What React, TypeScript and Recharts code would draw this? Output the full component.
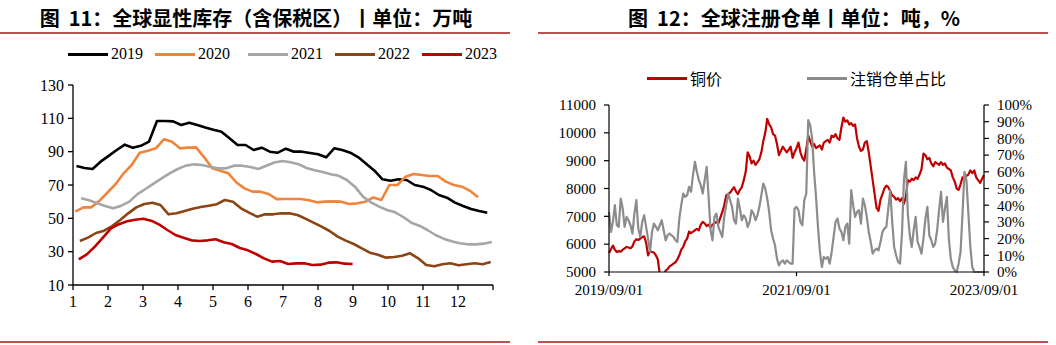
import React from 'react';
import { LineChart, Line, XAxis, YAxis } from 'recharts';

// ---------- Left chart: 全球显性库存（含保税区）, 万吨, weekly (Friday) data ----------
const monthTicks = [1, 2, 3, 4, 5, 6, 7, 8, 9, 10, 11, 12, 13];
const invTicks = [10, 30, 50, 70, 90, 110, 130];

const inv2019 = [81.4, 80.2, 79.6, 84, 87.5, 91, 94.2, 92.4, 93.5, 96, 108.4, 108.4, 108.2, 106, 107.4, 106, 104.5, 103.2, 102, 98, 94, 94, 91, 92.4, 90, 89.4, 91.8, 90, 90, 89.2, 88.4, 86.6, 92, 91, 89.4, 86.6, 82.6, 78.6, 73.4, 72.6, 73.4, 73, 70, 69, 67, 64, 62.4, 59.4, 57.4, 55.6, 54.4, 53.4];
const inv2020 = [54, 56.6, 56.6, 60.5, 65.5, 70.5, 77, 82, 89.4, 90.6, 92, 97.4, 96, 92, 92.4, 92.6, 86.6, 80, 78.6, 77, 71.5, 68, 66, 66, 64.6, 61.5, 61.6, 61.6, 61.6, 60.8, 59.6, 60, 60.2, 60, 58.6, 59, 60, 62.5, 61, 70, 70, 75, 76.6, 76, 75.4, 75.4, 72, 70, 69, 66.5, 62.6];
const inv2021 = [62, 60.8, 59, 57.4, 56, 57.6, 60, 64.5, 67.6, 70.8, 74, 77, 79.6, 81.6, 82.4, 82, 81, 80, 80, 81.6, 81.6, 80.8, 79.6, 81.5, 83.5, 84.4, 83.6, 82.5, 80.2, 78.8, 77.8, 76.4, 75.5, 73, 69, 63, 59.6, 57, 55, 53.6, 50.8, 47.4, 45.6, 43, 40, 37.8, 36.2, 35, 34.4, 34.4, 34.8, 35.8];
const inv2022 = [36.4, 38.4, 41.2, 42.6, 45.4, 49, 53, 56.6, 58.6, 59.4, 58, 52.4, 53, 54.4, 55.8, 56.8, 57.6, 58.5, 61, 60, 56, 53.4, 51, 52.4, 52.4, 53, 53, 52, 49.8, 47.4, 45, 42.4, 39, 36.6, 34.6, 32, 29.4, 28.2, 26.4, 26.8, 27.6, 29, 26, 22, 21.2, 22.4, 23, 21.8, 22.4, 23, 22.4, 23.8];
const inv2023 = [25.4, 28.4, 33, 38.4, 44, 46.5, 48.2, 49.2, 49.8, 48.6, 46.2, 43, 40, 38.4, 36.8, 36.4, 36.8, 37.4, 35.6, 34.6, 32.2, 30.8, 28.6, 26, 24, 24.4, 22.6, 23, 23, 22, 22.2, 23.4, 23.6, 22.8, 22.6];

// day of year (0 = Jan 1) of each year's first Friday
const yearNames = ['2019', '2020', '2021', '2022', '2023'];
const firstFriday = [3, 2, 7, 6, 5];
const yearColors = ['#000000', '#F0843A', '#A6A6A6', '#8B4514', '#C00000'];
const yearValues = [inv2019, inv2020, inv2021, inv2022, inv2023];

const toWeekly = (vals: number[], startDay: number) =>
  vals.map((v, i) => ({ x: 1 + ((startDay + 7 * i) * 12) / 365, v }));

// ---------- Right chart: 全球注册仓单, quarter-month samples from 2019/09/01 ----------
const dateLabels = ['2019/09/01', '2021/09/01', '2023/09/01'];
const dateTickPos = [0, 24, 48];
const priceTicks = [5000, 6000, 7000, 8000, 9000, 10000, 11000];
const ratioTicks = [0, 10, 20, 30, 40, 50, 60, 70, 80, 90, 100];

// 铜价 (one row per month, 4 samples each)
const copperPrice = [
  5680, 5820, 5950, 5800,
  5720, 5750, 5730, 5800,
  5850, 5900, 5880, 5850,
  5920, 6100, 6180, 6150,
  6200, 6250, 6280, 6050,
  5600, 5750, 5720, 5700,
  5600, 5450, 4900, 4650,
  4850, 5050, 5100, 5200,
  5250, 5300, 5350, 5450,
  5600, 5800, 5900, 6100,
  6200, 6450, 6400, 6450,
  6500, 6550, 6500, 6700,
  6800, 6750, 6650, 6700,
  6600, 6700, 6750, 6800,
  6750, 6950, 7150, 7400,
  7750, 7800, 7850, 7950,
  8050, 7900, 7800, 7950,
  8050, 8300, 8600, 9300,
  9150, 8900, 9000, 8850,
  8950, 9050, 9300, 9700,
  10000, 10500, 10300, 10200,
  9950, 9900, 9600, 9200,
  9350, 9500, 9400, 9300,
  9400, 9500, 9100, 9300,
  9450, 9650, 9300, 9100,
  9000, 9400, 9900, 9700,
  9500, 9600, 9450, 9500,
  9550, 9400, 9650, 9700,
  9750, 9650, 9900, 9850,
  9950, 9800, 9750, 10200,
  10550, 10400, 10450, 10300,
  10350, 10250, 10300, 9800,
  9500, 9350, 9400, 9650,
  9700, 9300, 8800, 8300,
  7800, 7300, 7200, 7600,
  7800, 8000, 8100, 8050,
  7900, 7750, 7700, 7600,
  7650, 7550, 7650, 7450,
  7700, 8300, 8250, 8350,
  8300, 8400, 8350, 8500,
  8700, 9250, 9200, 9050,
  9100, 8900, 8800, 8950,
  8900, 8850, 8950, 8850,
  8900, 8750, 8700, 8650,
  8400, 8250, 8000, 7950,
  8150, 8400, 8350, 8450,
  8500, 8650, 8550, 8650,
  8400, 8300, 8200, 8350,
  8480,
];
// 注销仓单占比 (%)
const cancelRatio = [
  36, 24, 30, 40,
  28, 27, 44, 38,
  27, 33, 31, 28,
  23, 35, 43, 26,
  21, 30, 34, 27,
  20, 12, 24, 29,
  27, 25, 28, 31,
  25, 19, 22, 23,
  22, 21, 19, 18,
  32, 40, 47, 45,
  46, 51, 48, 58,
  66, 60, 55, 52,
  47, 55, 63, 45,
  25, 19, 33, 35,
  27, 24, 21, 33,
  40, 47, 43, 39,
  31, 29, 44, 38,
  31, 34, 32, 27,
  30, 37, 35, 31,
  34, 39, 46, 53,
  50, 44, 36, 25,
  20, 16, 8, 4,
  6, 7, 5, 7,
  6, 5, 5, 38,
  39, 37, 30, 28,
  43, 47, 91, 88,
  80, 60, 45, 27,
  12, 3, 9, 8,
  9, 5, 12, 21,
  30, 32, 26, 24,
  19, 27, 29, 17,
  49, 40, 33, 36,
  37, 29, 44, 40,
  33, 24, 18, 11,
  13, 14, 13, 18,
  24, 26, 27, 38,
  49, 30, 15, 10,
  6, 5, 23, 55,
  66, 35, 22, 15,
  25, 33, 18, 15,
  11, 20, 32, 39,
  22, 19, 15, 17,
  25, 37, 48, 30,
  38, 45, 20, 8,
  3, 1, 0, 5,
  12, 35, 60, 55,
  35, 15, 3, 0,
  0, 0, 0, 0,
  0,
];

const rightData = copperPrice.map((p, i) => ({ t: i * 0.25, price: p, ratio: cancelRatio[i] }));

const serif = '"Liberation Serif", "Times New Roman", serif';
const cjk = '"Noto Sans CJK SC", sans-serif';
const leftTick = { fontFamily: serif, fontSize: 16, fill: '#000' };
const rightTick = { fontFamily: serif, fontSize: 15, fill: '#000' };
const ruleColor = '#C0504D';

const Title = ({ text, cx }: { text: string; cx: number }) => (
  <div
    style={{
      position: 'absolute', left: cx - 264, width: 528, top: 5, height: 26,
      lineHeight: '26px', textAlign: 'center', fontFamily: cjk, fontWeight: 700,
      fontSize: 20, color: '#000', whiteSpace: 'pre',
    }}
  >
    {text}
  </div>
);

const Rule = ({ left, width, top }: { left: number; width: number; top: number }) => (
  <div style={{ position: 'absolute', left, width, top, height: 2, background: ruleColor }} />
);

const LegendItem = ({ x, y, color, label, font, width = 40, sw = 3 }: any) => (
  <div style={{ position: 'absolute', left: x, top: y - 10, height: 20, display: 'flex', alignItems: 'center' }}>
    <div style={{ width, height: sw, background: color }} />
    <span style={{ marginLeft: 3, fontFamily: font, fontSize: 16, color: '#000', lineHeight: '20px' }}>{label}</span>
  </div>
);

export default function App() {
  const leftLegendX = [68, 155, 248, 335, 422];
  return (
    <div style={{ position: 'absolute', left: 0, top: 0, width: 1056, height: 345, background: '#fff', overflow: 'hidden' }}>
      <Title text="图  11：全球显性库存（含保税区）丨单位：万吨" cx={256} />
      <Title text="图  12：全球注册仓单丨单位：吨，%" cx={794} />
      <Rule left={0} width={510} top={32} />
      <Rule left={538} width={510} top={32} />
      <Rule left={0} width={510} top={341} />
      <Rule left={538} width={510} top={341} />

      {yearNames.map((n, i) => (
        <LegendItem key={n} x={leftLegendX[i]} y={54} color={yearColors[i]} label={n} font={serif} />
      ))}
      <LegendItem x={647} y={78} color="#C00000" label="铜价" font={cjk} />
      <LegendItem x={807} y={78} color="#8C8C8C" label="注销仓单占比" font={cjk} />

      <div style={{ position: 'absolute', left: 0, top: 0 }}>
        <LineChart width={528} height={345} margin={{ top: 85, right: 35, bottom: 30, left: 33 }}>
          <XAxis
            type="number" dataKey="x" domain={[1, 13]} ticks={monthTicks} interval={0}
            tickFormatter={(v: number) => (v === 13 ? '' : String(v))}
            tick={leftTick} tickSize={5} tickMargin={6} height={30}
            axisLine={{ stroke: '#000', strokeWidth: 1.3 }} tickLine={{ stroke: '#000', strokeWidth: 1.3 }}
            allowDuplicatedCategory={false}
          />
          <YAxis
            type="number" domain={[10, 130]} ticks={invTicks} interval={0} width={40}
            tick={leftTick} tickSize={5} tickMargin={4}
            axisLine={{ stroke: '#000', strokeWidth: 1.3 }} tickLine={{ stroke: '#000', strokeWidth: 1.3 }}
          />
          {yearNames.map((n, i) => (
            <Line
              key={n} data={toWeekly(yearValues[i], firstFriday[i])} dataKey="v" name={n}
              stroke={yearColors[i]} strokeWidth={2.6} dot={false} isAnimationActive={false}
              strokeLinejoin="round"
            />
          ))}
        </LineChart>
      </div>

      <div style={{ position: 'absolute', left: 528, top: 0 }}>
        <LineChart data={rightData} width={528} height={345} margin={{ top: 105, right: 22, bottom: 43, left: 31 }}>
          <XAxis
            type="number" dataKey="t" domain={[0, 48]} ticks={dateTickPos} interval={0}
            tickFormatter={(v: number) => dateLabels[dateTickPos.indexOf(v)] ?? ''}
            tick={rightTick} tickSize={4} tickMargin={8} height={30}
            axisLine={{ stroke: '#000', strokeWidth: 1.2 }} tickLine={{ stroke: '#000', strokeWidth: 1.2 }}
          />
          <YAxis
            yAxisId="p" type="number" domain={[5000, 11000]} ticks={priceTicks} interval={0} width={50}
            allowDataOverflow tick={rightTick} tickSize={5} tickMargin={8}
            axisLine={{ stroke: '#000', strokeWidth: 1.2 }} tickLine={{ stroke: '#000', strokeWidth: 1.2 }}
          />
          <YAxis
            yAxisId="r" orientation="right" type="number" domain={[0, 100]} ticks={ratioTicks} interval={0} width={50}
            tickFormatter={(v: number) => `${v}%`} tick={rightTick} tickSize={5} tickMargin={8}
            axisLine={{ stroke: '#000', strokeWidth: 1.2 }} tickLine={{ stroke: '#000', strokeWidth: 1.2 }}
          />
          <Line yAxisId="p" dataKey="price" name="铜价" stroke="#C00000" strokeWidth={2.2} dot={false} isAnimationActive={false} strokeLinejoin="round" />
          <Line yAxisId="r" dataKey="ratio" name="注销仓单占比" stroke="#8C8C8C" strokeWidth={2.2} dot={false} isAnimationActive={false} strokeLinejoin="round" />
        </LineChart>
      </div>
    </div>
  );
}
